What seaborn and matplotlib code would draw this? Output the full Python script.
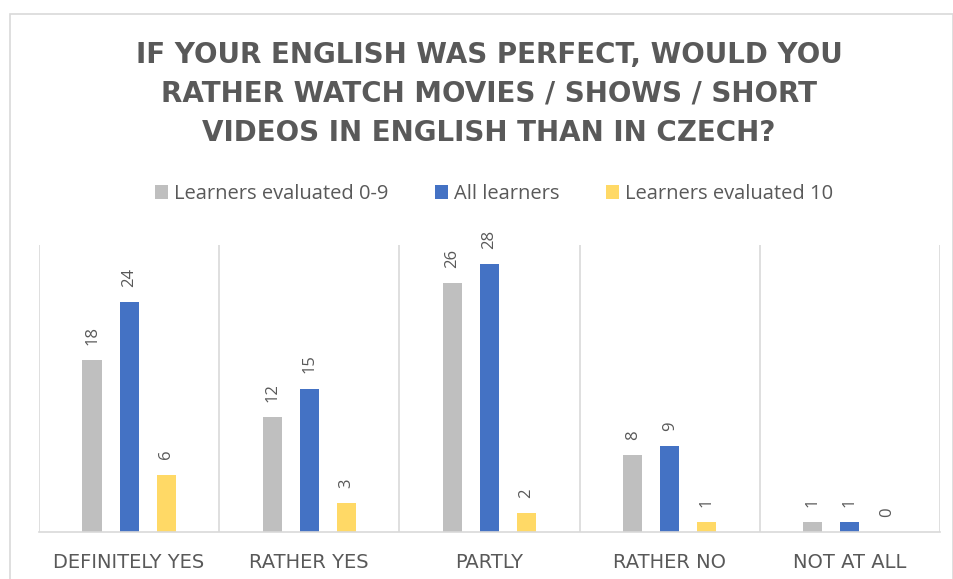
import matplotlib
matplotlib.use("Agg")
import matplotlib.pyplot as plt
import seaborn as sns
import pandas as pd
from matplotlib.patches import Rectangle

categories = ["DEFINITELY YES", "RATHER YES", "PARTLY", "RATHER NO", "NOT AT ALL"]
series_names = ["Learners evaluated 0-9", "All learners", "Learners evaluated 10"]
vals_0_9 = [18, 12, 26, 8, 1]
vals_all = [24, 15, 28, 9, 1]
vals_10 = [6, 3, 2, 1, 0]
colors = ["#BFBFBF", "#4472C4", "#FFD966"]
title = "IF YOUR ENGLISH WAS PERFECT, WOULD YOU\nRATHER WATCH MOVIES / SHOWS / SHORT\nVIDEOS IN ENGLISH THAN IN CZECH?"

rows = []
for name, vals in zip(series_names, [vals_0_9, vals_all, vals_10]):
    for c, v in zip(categories, vals):
        rows.append({"category": c, "series": name, "value": v})
df = pd.DataFrame(rows)

sns.set_theme(style="white")
plt.rcParams["font.family"] = ["Open Sans", "DejaVu Sans"]
TXT = "#595959"

fig = plt.figure(figsize=(9.54, 5.79), dpi=100)
ax = fig.add_axes([39/954, 1-532/579, (940-39)/954, (532-245)/579])

sns.barplot(data=df, x="category", y="value", hue="series", order=categories,
            hue_order=series_names, palette=colors, width=0.617, gap=0.485,
            saturation=1, ax=ax, legend=True, edgecolor="none")

for cont in ax.containers:
    ax.bar_label(cont, labels=[f"{int(v)}" for v in cont.datavalues], rotation=90,
                 padding=11, color=TXT, fontsize=12)

ax.set_ylim(0, 30)
ax.set_xlim(-0.5, len(categories) - 0.5)
ax.set_yticks([])
ax.set_xlabel("")
ax.set_ylabel("")
for s in ["top", "left", "right"]:
    ax.spines[s].set_visible(False)
ax.spines["bottom"].set_color("#D9D9D9")
ax.spines["bottom"].set_linewidth(1.2)
for b in range(len(categories) + 1):
    ax.axvline(b - 0.5, color="#D9D9D9", lw=1.2, zorder=0)
ax.tick_params(axis="x", length=0, pad=15, labelcolor=TXT)
for lab in ax.get_xticklabels():
    lab.set_fontfamily(["DejaVu Sans"])
    lab.set_fontsize(14)

handles, labels = ax.get_legend_handles_labels()
ax.get_legend().remove()
fig.legend(handles, labels, loc="center", bbox_to_anchor=(494/954, 1-194/579), ncol=3,
           frameon=False, fontsize=14.5, labelcolor=TXT, handlelength=0.65,
           handleheight=0.65, handletextpad=0.3, columnspacing=2.3)

fig.text(489/954, 1-94/579, title, ha="center", va="center", fontsize=20,
         fontweight="bold", color=TXT, linespacing=1.52, family=["DejaVu Sans"])

fig.patches.append(Rectangle((10/954, -0.05), (953-10)/954, 1.05-14/579,
                             transform=fig.transFigure, fill=False,
                             edgecolor="#D9D9D9", lw=1.2))

fig.savefig("out.png", dpi=100)
